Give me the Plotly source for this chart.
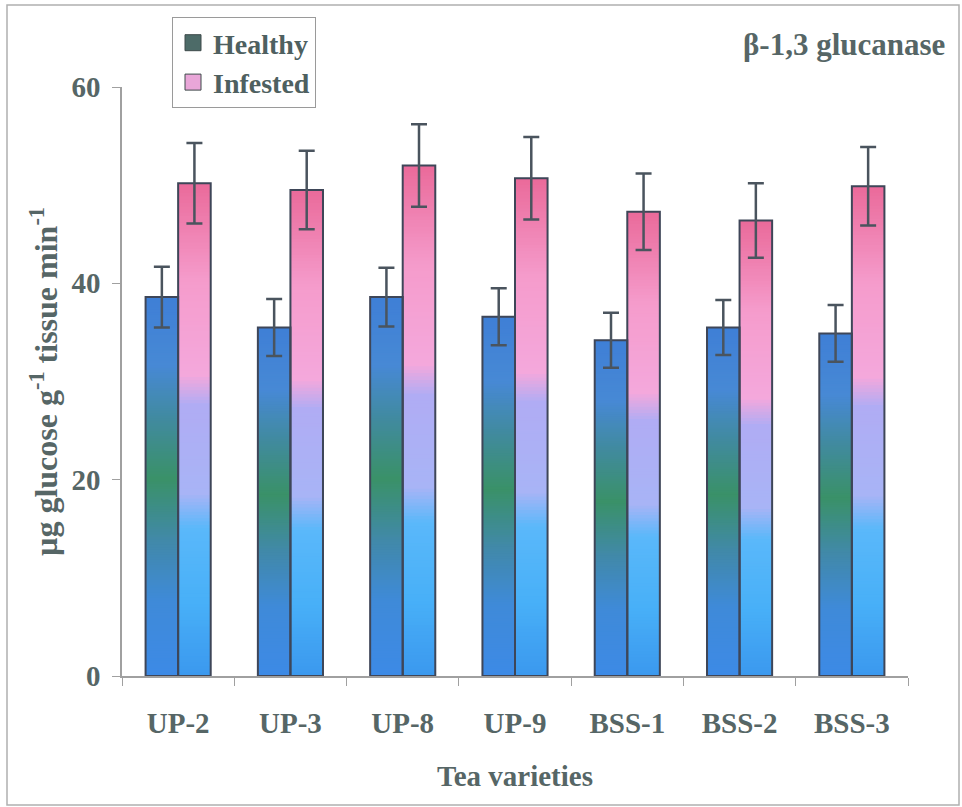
import plotly.graph_objects as go

varieties = ["UP-2", "UP-3", "UP-8", "UP-9", "BSS-1", "BSS-2", "BSS-3"]
healthy = [38.6, 35.5, 38.6, 36.6, 34.2, 35.5, 34.9]
healthy_err = [3.1, 2.9, 3.0, 2.9, 2.8, 2.8, 2.9]
infested = [50.2, 49.5, 52.0, 50.7, 47.3, 46.4, 49.9]
infested_err = [4.1, 4.0, 4.2, 4.2, 3.9, 3.8, 4.0]

FONT = "Liberation Serif, Times New Roman, serif"
TXT = "#566666"
OUTLINE = "#3e4658"
ERRC = "#4a545e"

# gradient stops (fraction of bar height, colour)
healthy_stops = [(0.0, (61, 138, 230)), (0.2, (63, 138, 216)), (0.36, (65, 137, 168)),
                 (0.52, (58, 145, 104)), (0.68, (65, 138, 160)), (0.82, (71, 137, 213)),
                 (1.0, (63, 127, 214))]
infested_stops = [(0.0, (59, 152, 238)), (0.15, (72, 176, 248)), (0.3, (90, 184, 250)),
                  (0.37, (168, 180, 246)), (0.55, (176, 172, 244)), (0.61, (244, 168, 220)),
                  (0.8, (245, 156, 204)), (1.0, (234, 106, 154))]


def grad(stops, f):
    for (f0, c0), (f1, c1) in zip(stops[:-1], stops[1:]):
        if f0 <= f <= f1:
            t = (f - f0) / (f1 - f0)
            c = [round(a + (b - a) * t) for a, b in zip(c0, c1)]
            return "rgb(%d,%d,%d)" % tuple(c)
    return "rgb(%d,%d,%d)" % stops[-1][1]


N = 150
BW = 0.29
fig = go.Figure()

for vals, stops, off in [(healthy, healthy_stops, -BW), (infested, infested_stops, 0.0)]:
    for k in range(N):
        frac_top = (N - k) / N
        fig.add_trace(go.Bar(
            x=varieties, y=[v * frac_top for v in vals],
            offset=off, width=BW,
            marker=dict(color=grad(stops, (N - k - 0.5) / N), line=dict(width=0)),
            showlegend=False, hoverinfo="skip"))

for vals, errs, off, name in [(healthy, healthy_err, -BW, "Healthy"),
                              (infested, infested_err, 0.0, "Infested")]:
    fig.add_trace(go.Bar(
        x=varieties, y=vals, offset=off, width=BW, name=name,
        marker=dict(color="rgba(0,0,0,0)", line=dict(color=OUTLINE, width=2)),
        error_y=dict(type="data", array=errs, visible=True, color=ERRC, thickness=2.5, width=8),
        showlegend=False))

fig.add_trace(go.Scatter(x=[None], y=[None], mode="markers", name="Healthy",
                         marker=dict(symbol="square", size=16, color="#4d6b68",
                                     line=dict(color="#3e4a4a", width=1))))
fig.add_trace(go.Scatter(x=[None], y=[None], mode="markers", name="Infested",
                         marker=dict(symbol="square", size=16, color="#e9a6d8",
                                     line=dict(color="#3e4a4a", width=1))))

ML, MT, PW, PH = 122, 87, 786, 589


def px(x):
    return (x - ML) / PW


def py(y):
    return (MT + PH - y) / PH


fig.update_layout(
    width=962, height=807,
    margin=dict(l=ML, r=962 - ML - PW, t=MT, b=807 - MT - PH),
    paper_bgcolor="white", plot_bgcolor="white",
    barmode="overlay",
    font=dict(family=FONT, color=TXT, size=28, weight="bold"),
    legend=dict(x=px(172), y=py(17), xanchor="left", yanchor="top",
                bordercolor="#9a9a9a", borderwidth=1, bgcolor="white",
                font=dict(family=FONT, size=28, color="#4e6060", weight="bold"),
                itemsizing="trace", tracegroupgap=0),
    xaxis=dict(showgrid=False, showline=True, linecolor="#a0a0a0", linewidth=1.5,
               ticks="outside", tickson="boundaries", ticklen=8, tickcolor="#a0a0a0",
               ticklabelstandoff=20,
               tickfont=dict(family=FONT, size=29, color=TXT, weight="bold"),
               title=dict(text="Tea varieties", standoff=28,
                          font=dict(family=FONT, size=29, color=TXT, weight="bold"))),
    yaxis=dict(range=[0, 60], tickvals=[0, 20, 40, 60], showgrid=False, zeroline=False,
               showline=True, linecolor="#a0a0a0", linewidth=1.5,
               ticks="outside", ticklen=8, tickcolor="#a0a0a0", ticklabelstandoff=6,
               tickfont=dict(family=FONT, size=29, color=TXT, weight="bold"),
               title=dict(text="µg glucose g<sup>-1</sup> tissue min<sup>-1</sup>", standoff=4,
                          font=dict(family=FONT, size=32, color=TXT, weight="bold"))),
    annotations=[dict(text="β-1,3 glucanase", xref="paper", yref="paper",
                      x=px(947), y=py(45), xanchor="right", yanchor="middle", showarrow=False,
                      font=dict(family=FONT, size=31, color=TXT, weight="bold"))],
    shapes=[dict(type="rect", xref="paper", yref="paper",
                 x0=px(7), x1=px(959), y0=py(805), y1=py(5),
                 line=dict(color="#b0b0b0", width=1.5), fillcolor="rgba(0,0,0,0)", layer="below")],
)

fig.write_html("out.html")
